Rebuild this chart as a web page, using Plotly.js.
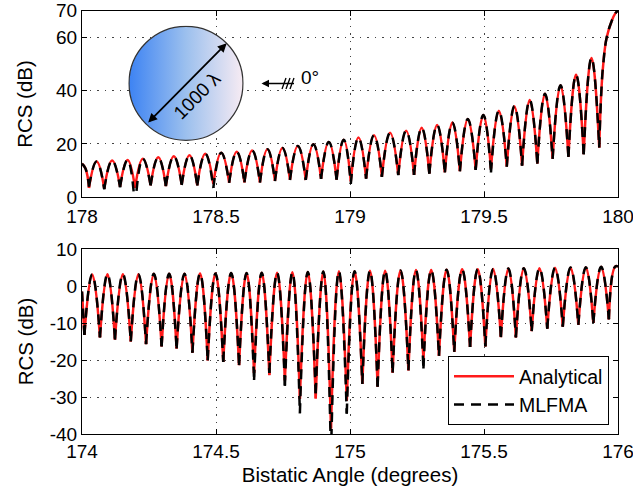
<!DOCTYPE html>
<html>
<head>
<meta charset="utf-8">
<script src="https://cdn.plot.ly/plotly-3.0.1.min.js"></script>
<style>
html,body{margin:0;padding:0;background:#fff;}
#chart{width:633px;height:492px;}
</style>
</head>
<body>
<div id="chart"></div>
<script>
// ---------- Top panel (178–180 deg) ----------
const topNullX = [178.026, 178.083, 178.142, 178.198, 178.256, 178.313, 178.372, 178.430, 178.490, 178.549,
  178.606, 178.664, 178.720, 178.776, 178.835, 178.892, 178.950, 179.003, 179.060, 179.119,
  179.180, 179.239, 179.296, 179.354, 179.410, 179.469, 179.526, 179.585, 179.642, 179.699,
  179.756, 179.815, 179.872, 179.930];
const topNullAnalytical = [3.5, 3.2, 4.0, 3.5, 4.5, 4.2, 4.8, 4.5, 5.0, 5.5,
  5.6, 5.6, 6.2, 6.6, 6.5, 7.0, 6.6, 6.0, 7.1, 7.8,
  8.4, 8.4, 9.0, 9.4, 9.8, 10.4, 10.8, 11.6, 12.0, 12.7,
  14.5, 15.2, 16.2, 18.7];
const topNullMLFMA = [4.0, 3.0, 3.8, -4.0, 4.4, 4.2, 4.6, 4.4, 3.5, 5.4,
  5.6, 5.5, 6.1, 6.5, 6.5, 6.9, 6.6, 5.0, 7.0, 7.7,
  8.3, 8.4, 8.9, 9.3, 9.7, 10.3, 9.3, 11.5, 11.9, 12.6,
  14.4, 15.1, 16.1, 18.7];
const topPeak = [13.4, 13.8, 14.0, 14.5, 15.0, 15.4, 15.8, 16.3, 16.7, 17.1,
  17.6, 18.0, 18.5, 19.2, 19.9, 20.7, 21.6, 22.4, 23.3, 24.2,
  25.0, 26.1, 27.1, 28.1, 29.4, 30.9, 32.5, 34.2, 36.5, 38.8,
  42.0, 46.0, 52.3];
const topLeadX = [178.000, 178.013];
const topLeadY = [12.6, 10.8];
const topTailX = [179.938, 179.945, 179.958, 179.976, 179.990, 180.000];
const topTailY = [40, 50, 60, 66, 69, 70];

// ---------- Bottom panel (174–176 deg) ----------
const botNullX = [174.009, 174.067, 174.123, 174.182, 174.239, 174.297, 174.353, 174.412, 174.469, 174.527,
  174.586, 174.642, 174.699, 174.757, 174.813, 174.872, 174.929, 174.988, 175.046, 175.103,
  175.159, 175.218, 175.274, 175.332, 175.389, 175.448, 175.505, 175.563, 175.619, 175.678,
  175.736, 175.794, 175.852, 175.908, 175.966];
const botNullAnalytical = [-13.2, -13.9, -14.5, -15.0, -15.7, -16.3, -16.9, -18.0, -20.1, -20.5,
  -21.4, -23.5, -24.1, -25.5, -30.5, -30.4, -38.5, -31.0, -26.4, -27.2,
  -23.4, -22.8, -20.0, -18.9, -17.8, -16.5, -16.3, -13.8, -13.9, -12.2,
  -11.5, -11.0, -10.5, -10.0, -9.0];
const botNullMLFMA = [-13.2, -13.9, -14.5, -15.0, -15.7, -16.3, -16.9, -18.0, -20.1, -20.5,
  -21.4, -25.4, -23.5, -27.0, -34.4, -29.0, -46.0, -34.5, -26.4, -27.2,
  -23.4, -22.8, -22.3, -18.9, -17.8, -16.5, -16.3, -13.8, -13.9, -12.2,
  -11.5, -11.0, -10.5, -10.0, -9.0];
const botPeak = [3.1, 3.2, 3.2, 3.2, 3.3, 3.3, 3.3, 3.4, 3.4, 3.5,
  3.5, 3.6, 3.6, 3.7, 3.8, 3.9, 4.0, 4.0, 4.1, 4.1,
  4.2, 4.3, 4.3, 4.4, 4.5, 4.5, 4.6, 4.7, 4.8, 4.8,
  4.9, 5.0, 5.1, 5.2];
const botLeadX = [174.000];
const botLeadY = [-1.5];
const botTailX = [175.990, 176.000];
const botTailY = [5.3, 5.2];

// ---------- Ticks ----------
const topXTicks = [178, 178.5, 179, 179.5, 180];
const topXText = ['178', '178.5', '179', '179.5', '180'];
const topYTicks = [0, 20, 40, 60, 70];
const topYText = ['0', '20', '40', '60', '70'];
const botXTicks = [174, 174.5, 175, 175.5, 176];
const botXText = ['174', '174.5', '175', '175.5', '176'];
const botYTicks = [-40, -30, -20, -10, 0, 10];
const botYText = ['-40', '-30', '-20', '-10', '0', '10'];

// Build lobe polylines (one arch per lobe, null to null)
function lobes(leadX, leadY, nullX, nullY, peakY, tailX, tailY) {
  const x = [], y = [];
  for (let i = 0; i < leadX.length; i++) { x.push(leadX[i]); y.push(leadY[i]); }
  x.push(nullX[0]); y.push(nullY[0]);
  x.push(null); y.push(null);
  for (let i = 0; i < nullX.length - 1; i++) {
    x.push(nullX[i], (nullX[i] + nullX[i + 1]) / 2, nullX[i + 1]);
    y.push(nullY[i], peakY[i], nullY[i + 1]);
    x.push(null); y.push(null);
  }
  const n = nullX.length - 1;
  x.push(nullX[n]); y.push(nullY[n]);
  for (let i = 0; i < tailX.length; i++) { x.push(tailX[i]); y.push(tailY[i]); }
  return {x, y};
}

const tA = lobes(topLeadX, topLeadY, topNullX, topNullAnalytical, topPeak, topTailX, topTailY);
const tM = lobes(topLeadX, topLeadY, topNullX, topNullMLFMA, topPeak, topTailX, topTailY);
const bA = lobes(botLeadX, botLeadY, botNullX, botNullAnalytical, botPeak, botTailX, botTailY);
const bM = lobes(botLeadX, botLeadY, botNullX, botNullMLFMA, botPeak, botTailX, botTailY);

const RED = '#ff1a1a';
const lineA = {color: RED, width: 2.5, shape: 'spline', smoothing: 1.3, simplify: false};
const lineM = {color: '#000000', width: 2.5, dash: '10px,7px', shape: 'spline', smoothing: 1.3, simplify: false};

const data = [
  {x: tA.x, y: tA.y, xaxis: 'x', yaxis: 'y', mode: 'lines', name: 'Analytical', line: lineA, connectgaps: false, showlegend: true, hoverinfo: 'skip'},
  {x: tM.x, y: tM.y, xaxis: 'x', yaxis: 'y', mode: 'lines', name: 'MLFMA', line: lineM, connectgaps: false, showlegend: true, hoverinfo: 'skip'},
  {x: bA.x, y: bA.y, xaxis: 'x2', yaxis: 'y2', mode: 'lines', name: 'Analytical', line: lineA, connectgaps: false, showlegend: false, hoverinfo: 'skip'},
  {x: bM.x, y: bM.y, xaxis: 'x2', yaxis: 'y2', mode: 'lines', name: 'MLFMA', line: lineM, connectgaps: false, showlegend: false, hoverinfo: 'skip'}
];

const W = 633, H = 492;
const px = v => v / W;
const py = v => 1 - v / H;

const FONT = 'Liberation Sans, Arial, Helvetica, sans-serif';
const FS = 19;
const FT = 20.5;

const axisCommon = {
  showline: true, mirror: 'ticks', linecolor: '#000', linewidth: 1,
  ticks: 'inside', ticklen: 5, tickcolor: '#000', tickwidth: 1,
  showgrid: true, gridcolor: '#444', gridwidth: 1, griddash: '1.5px,6px',
  zeroline: false, tickfont: {family: FONT, size: FS, color: '#000'},
  automargin: false, fixedrange: true, ticklabeloverflow: 'allow'
};

const circleSvg = "<svg xmlns='http://www.w3.org/2000/svg' width='200' height='200' viewBox='0 0 200 200'>" +
  "<defs><linearGradient id='g' x1='0' y1='0' x2='1' y2='0'>" +
  "<stop offset='0' stop-color='#3d83f3'/><stop offset='0.5' stop-color='#9cc0ee'/><stop offset='1' stop-color='#f7ebf3'/>" +
  "</linearGradient></defs><circle cx='100' cy='100' r='98.6' fill='url(#g)' stroke='#333' stroke-width='2.2'/></svg>";

const layout = {
  width: W, height: H,
  margin: {l: 0, r: 0, t: 0, b: 0},
  paper_bgcolor: '#fff', plot_bgcolor: '#fff',
  font: {family: FONT, size: FS, color: '#000'},
  showlegend: true,
  xaxis: Object.assign({}, axisCommon, {
    domain: [px(82), px(618)], anchor: 'y', range: [178, 180],
    tickmode: 'array', tickvals: topXTicks, ticktext: topXText, ticklabelstandoff: 2
  }),
  yaxis: Object.assign({}, axisCommon, {
    domain: [py(197.3), py(10.7)], anchor: 'x', range: [0, 70],
    tickmode: 'array', tickvals: topYTicks, ticktext: topYText,
    title: {text: 'RCS (dB)', font: {family: FONT, size: FT}, standoff: 17}
  }),
  xaxis2: Object.assign({}, axisCommon, {
    domain: [px(82), px(618)], anchor: 'y2', range: [174, 176],
    tickmode: 'array', tickvals: botXTicks, ticktext: botXText,
    title: {text: 'Bistatic Angle (degrees)', font: {family: FONT, size: FT}, standoff: 6}
  }),
  yaxis2: Object.assign({}, axisCommon, {
    domain: [py(434), py(249)], anchor: 'x2', range: [-40, 10],
    tickmode: 'array', tickvals: botYTicks, ticktext: botYText,
    title: {text: 'RCS (dB)', font: {family: FONT, size: FT}, standoff: 10}
  }),
  legend: {
    x: px(609), y: py(425), xanchor: 'right', yanchor: 'bottom',
    bgcolor: '#fff', bordercolor: '#000', borderwidth: 1,
    font: {family: FONT, size: 19.5, color: '#000'},
    itemwidth: 60, tracegroupgap: 0
  },
  images: [{
    source: 'data:image/svg+xml;charset=utf-8,' + encodeURIComponent(circleSvg),
    xref: 'paper', yref: 'paper',
    x: px(186 - 57.8), y: py(83.3 - 57.8),
    sizex: 115.6 / W, sizey: 115.6 / H,
    xanchor: 'left', yanchor: 'top', sizing: 'stretch', layer: 'above'
  }],
  annotations: [
    {xref: 'paper', yref: 'paper', x: px(226.7), y: py(43.3), ax: -80, ay: 80.7,
     showarrow: true, arrowside: 'end+start', arrowhead: 2, arrowsize: 1, arrowwidth: 1.8,
     arrowcolor: '#000', text: '', standoff: 0, startstandoff: 0},
    {xref: 'paper', yref: 'paper', x: px(197), y: py(95), xanchor: 'center', yanchor: 'middle',
     text: '1000 λ', textangle: -45,
     showarrow: false, font: {family: FONT, size: FS, color: '#000'}},
    {xref: 'paper', yref: 'paper', x: px(261.5), y: py(83.5), ax: 34, ay: 0,
     showarrow: true, arrowhead: 2, arrowsize: 1, arrowwidth: 1.5, arrowcolor: '#000', text: '', standoff: 0},
    {xref: 'paper', yref: 'paper', x: px(310), y: py(77), xanchor: 'center', yanchor: 'middle', text: '0°',
     showarrow: false, font: {family: FONT, size: FS, color: '#000'}}
  ],
  shapes: [
    {type: 'line', xref: 'paper', yref: 'paper', x0: px(282), y0: py(89), x1: px(286), y1: py(78), line: {color: '#000', width: 1.3}},
    {type: 'line', xref: 'paper', yref: 'paper', x0: px(286), y0: py(89), x1: px(290), y1: py(78), line: {color: '#000', width: 1.3}},
    {type: 'line', xref: 'paper', yref: 'paper', x0: px(290), y0: py(89), x1: px(294), y1: py(78), line: {color: '#000', width: 1.3}}
  ]
};

Plotly.newPlot('chart', data, layout, {staticPlot: true, displayModeBar: false});
</script>
</body>
</html>
